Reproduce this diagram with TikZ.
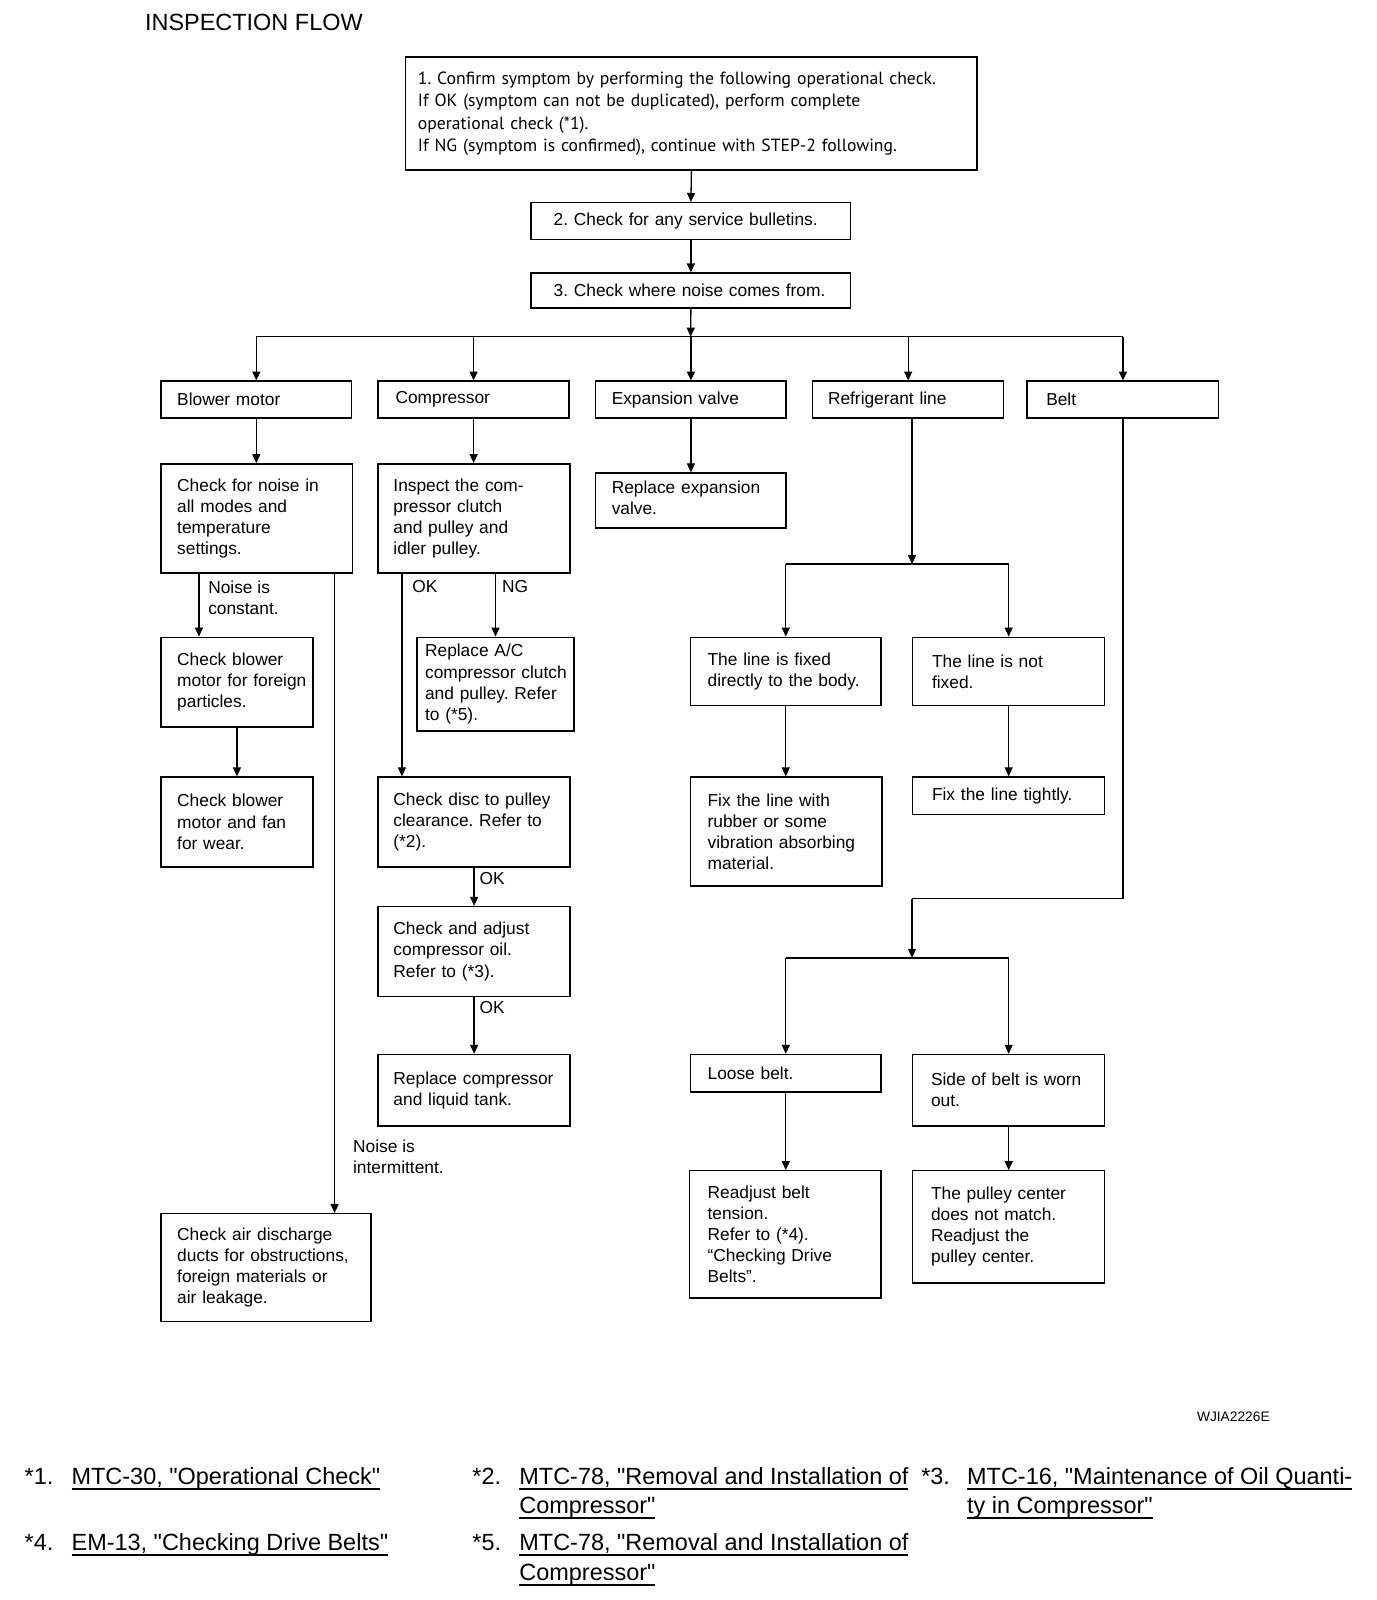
\documentclass[tikz,border=0pt]{standalone}
\usepackage{fontspec}
\setmainfont{Liberation Sans}
\newfontfamily\ptfont{PT Sans}
\newfontfamily\fnfam{Liberation Sans}
\usetikzlibrary{arrows.meta}
\frenchspacing
\newcommand\bxfont{\frenchspacing\fontsize{17}{20.7}\selectfont}
\newcommand\onefont{\ptfont\frenchspacing\fontsize{17.3}{22}\selectfont}
\newcommand\fnfont{\fnfam\fontsize{23}{29}\selectfont}
\newcommand\ttlfont{\fontsize{23}{27}\selectfont}
\newsavebox\ulbox
\newcommand\ulx[1]{\sbox\ulbox{#1}\leavevmode\rlap{\vrule width\wd\ulbox height -3.6pt depth 5.6pt}\usebox\ulbox}
\tikzset{
 bx/.style n args={4}{draw, line width=1.5pt, anchor=north west, inner xsep=#3pt, inner ysep=0pt,
   minimum width=#1pt, minimum height=#2pt, text width=#4pt, align=left, font=\bxfont,
   execute at begin node={\rightskip=-300pt plus 1fil\relax}},
 arr/.style={line width=1.3pt, -{Triangle[length=9pt,width=8pt]}},
 ln/.style={line width=1.3pt},
 lbl/.style={anchor=west, inner sep=0pt, align=left, font=\bxfont},
 fn/.style={anchor=base west, inner sep=0pt, font=\fnfont},
}
\begin{document}
\begin{tikzpicture}[x=1pt,y=-1pt]
\fill[white] (0,0) rectangle (1376,1600);
\useasboundingbox (0,0) rectangle (1376,1600);
\begin{scope}[scale=1.02, transform shape]
\node[anchor=west, inner sep=0pt, font=\ttlfont] (ttl) at (142,22) {INSPECTION FLOW};
% top chain
\node[bx={560}{111}{12}{536}, font=\onefont] (box1) at (397,55) {1. Confirm symptom by performing the following operational check.\\If OK (symptom can not be duplicated), perform complete\\operational check (*1).\\If NG (symptom is confirmed), continue with STEP-2 following.};
\node[bx={313}{36}{22}{269}] (box2) at (520,198) {2. Check for any service bulletins.};
\node[bx={313}{34}{22}{269}] (box3) at (520,267) {3. Check where noise comes from.};
% row
\node[bx={187}{36}{16}{155}] (bm) at (157,373) {Blower motor};
\node[bx={187}{36}{17}{153}] (cp) at (370,373) {Compressor};
\node[bx={187}{36}{16}{155}] (ev) at (583,373) {Expansion valve};
\node[bx={187}{36}{15}{157}] (rl) at (796,373) {Refrigerant line};
\node[bx={188}{36}{19}{150}] (bt) at (1006,373) {Belt};
% blower column
\node[bx={188}{107}{16}{156}] (b1) at (157,454) {Check for noise in\\all modes and\\temperature\\settings.};
\node[bx={149}{88}{16}{117}] (b2) at (157,624) {Check blower\\motor for foreign\\particles.};
\node[bx={149}{88}{16}{117}] (b3) at (157,761) {Check blower\\motor and fan\\for wear.};
\node[bx={206}{106}{16}{174}] (b4) at (157,1189) {Check air discharge\\ducts for obstructions,\\foreign materials or\\air leakage.};
% compressor column
\node[bx={188}{107}{15}{158}] (c1) at (370,454) {Inspect the com-\\pressor clutch\\and pulley and\\idler pulley.};
\node[bx={154}{92}{8}{138}] (c2) at (408,624) {Replace A/C\\compressor clutch\\and pulley. Refer\\to (*5).};
\node[bx={188}{88}{15}{158}] (c3) at (370,761) {Check disc to pulley\\clearance. Refer to\\(*2).};
\node[bx={188}{88}{15}{158}] (c4) at (370,888) {Check and adjust\\compressor oil.\\Refer to (*3).};
\node[bx={188}{70}{15}{158}] (c5) at (370,1033) {Replace compressor\\and liquid tank.};
% expansion
\node[bx={187}{54}{16}{155}] (e1) at (583,463) {Replace expansion\\valve.\vspace{6pt}};
% refrigerant
\node[bx={187}{67}{17}{153}] (r1) at (676,624) {The line is fixed\\directly to the body.};
\node[bx={188}{67}{19}{150}] (r2) at (894,624) {The line is not\\fixed.};
\node[bx={188}{107}{17}{154}] (r3) at (676,761) {Fix the line with\\rubber or some\\vibration absorbing\\material.};
\node[bx={188}{37}{19}{150}] (r4) at (894,761) {Fix the line tightly.};
% belt
\node[bx={187}{37}{17}{153}] (lb) at (676,1033) {Loose belt.};
\node[bx={188}{70}{18}{152}] (sb) at (894,1033) {Side of belt is worn\\out.};
\node[bx={188}{125}{18}{152}] (l2) at (675,1147) {Readjust belt\\tension.\\Refer to (*4).\\“Checking Drive\\Belts”.};
\node[bx={188}{110}{18}{152}] (s2) at (894,1147) {The pulley center\\does not match.\\Readjust the\\pulley center.};
% coordinates
\coordinate (br0) at (677,330);
\coordinate (xc) at (195,0);
\coordinate (xi) at (328,0);
\coordinate (xok) at (394,0);
\coordinate (br1) at (894,553);
\coordinate (bk) at (894,881);
\coordinate (br2) at (894,939);
% connectors
\draw[arr] (box1.south) -- (box2.north);
\draw[arr] (box2.south) -- (box3.north);
\draw[arr] (box3.south) -- (br0);
\draw[ln] (bm.north |- br0) -- (bt.north |- br0);
\foreach \n in {bm,cp,ev,rl,bt} \draw[arr] (\n.north |- br0) -- (\n.north);
\draw[arr] (bm.south) -- (bm.south |- b1.north);
\draw[arr] (cp.south) -- (cp.south |- c1.north);
\draw[arr] (ev.south) -- (ev.south |- e1.north);
\draw[arr] (b1.south -| xc) -- (b2.north -| xc);
\draw[arr] (b1.south -| xi) -- (b4.north -| xi);
\draw[arr] (b2.south) -- (b3.north);
\draw[arr] (c1.south -| xok) -- (c3.north -| xok);
\draw[arr] (c1.south -| c2.north) -- (c2.north);
\draw[arr] (c3.south) -- (c4.north);
\draw[arr] (c4.south) -- (c5.north);
\draw[arr] (rl.south -| br1) -- (br1);
\draw[ln] (r1.north |- br1) -- (r2.north |- br1);
\draw[arr] (r1.north |- br1) -- (r1.north);
\draw[arr] (r2.north |- br1) -- (r2.north);
\draw[arr] (r1.south) -- (r1.south |- r3.north);
\draw[arr] (r2.south) -- (r2.south |- r4.north);
\draw[ln] (bt.south) |- (bk);
\draw[arr] (bk) -- (br2);
\draw[ln] (lb.north |- br2) -- (sb.north |- br2);
\draw[arr] (lb.north |- br2) -- (lb.north);
\draw[arr] (sb.north |- br2) -- (sb.north);
\draw[arr] (lb.south) -- (lb.south |- l2.north);
\draw[arr] (sb.south) -- (sb.south |- s2.north);
% labels
\node[lbl] (lnc) at (204,586) {Noise is\\constant.};
\node[lbl] (lni) at (346,1134) {Noise is\\intermittent.};
\node[lbl] (lok1) at (404,575) {OK};
\node[lbl] (lng) at (492,575) {NG};
\node[lbl] (lok2) at (470,861) {OK};
\node[lbl] (lok3) at (470,988) {OK};
\node[anchor=east, inner sep=0pt, font=\fontsize{13.5}{15}\selectfont] (wj) at (1245,1389) {WJIA2226E};
% footnotes
\node[fn] (f1n) at (24,1455) {*1.};
\node[fn] (f1) at (70,1455) {\ulx{MTC-30, "Operational Check"}};
\node[fn] (f2n) at (463,1455) {*2.};
\node[fn] (f2a) at (509,1455) {\ulx{MTC-78, "Removal and Installation of}};
\node[fn] (f2b) at (509,1484) {\ulx{Compressor"}};
\node[fn] (f3n) at (903,1455) {*3.};
\node[fn] (f3a) at (948,1455) {\ulx{MTC-16, "Maintenance of Oil Quanti-}};
\node[fn] (f3b) at (948,1484) {\ulx{ty in Compressor"}};
\node[fn] (f4n) at (24,1520) {*4.};
\node[fn] (f4) at (70,1520) {\ulx{EM-13, "Checking Drive Belts"}};
\node[fn] (f5n) at (463,1520) {*5.};
\node[fn] (f5a) at (509,1520) {\ulx{MTC-78, "Removal and Installation of}};
\node[fn] (f5b) at (509,1549) {\ulx{Compressor"}};
\end{scope}
\end{tikzpicture}
\end{document}
